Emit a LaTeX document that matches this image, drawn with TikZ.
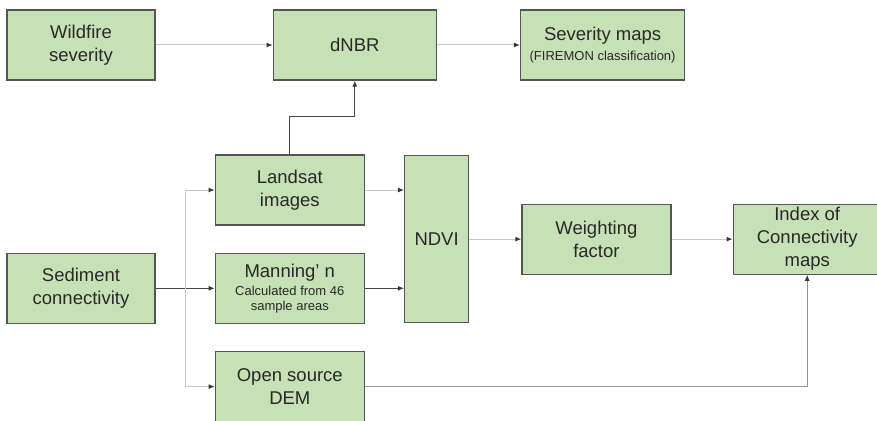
\documentclass[tikz,border=0pt]{standalone}
\usepackage{fontspec}
\setmainfont{Liberation Sans}
\usepackage{tikz}
\usetikzlibrary{arrows.meta,positioning,calc}

\definecolor{boxgreen}{RGB}{199,225,182}
\definecolor{boxedge}{RGB}{85,85,85}
\definecolor{inktxt}{RGB}{40,40,40}
\newcommand{\smalltxt}{\fontsize{13}{15}\selectfont}

\begin{document}
\begin{tikzpicture}[
  x=1pt, y=-1pt,
  blk/.style={draw=boxedge, line width=1.3pt, fill=boxgreen, text=inktxt, align=center, inner sep=0pt, minimum width=149pt, minimum height=70pt, font=\fontsize{18.5}{23}\selectfont},
  arr/.style={-{Latex[length=6pt,width=5pt,color=black!78]}, line width=1pt},
  dark/.style={arr, draw=black!72},
  lite/.style={arr, draw=black!22},
  mid/.style={arr, draw=black!42}
]
\useasboundingbox (0,0) rectangle (877,420);

% burn severity chain
\node[blk, minimum width=148pt] (wild) at (81,45) {Wildfire\\severity};
\node[blk, minimum width=163pt, right=117pt of wild] (dnbr) {dNBR};
\node[blk, minimum width=164pt, right=83pt of dnbr] (sevmap) {Severity maps\\[-3pt]{\smalltxt (FIREMON classification)}};

% connectivity inputs
\node[blk, minimum width=148pt, below=172pt of wild] (sed) {Sediment\\connectivity};
\node[blk, right=59pt of sed] (manning) {Manning' n\\[-5pt]{\smalltxt Calculated from 46}\\[-8pt]{\smalltxt sample areas}};
\node[blk, above=27pt of manning] (landsat) {Landsat\\images};
\node[blk, below=27pt of manning] (dem) {Open source\\DEM};
\node[blk, minimum width=64pt, minimum height=167pt, right=39pt of $(landsat.east)!0.5!(manning.east)$] (ndvi) {NDVI};
\node[blk, right=52pt of ndvi] (weight) {Weighting\\factor};
\node[blk, minimum width=148pt, right=61pt of weight] (ioc) {Index of\\Connectivity\\maps};

\draw[lite] (wild) -- (dnbr);
\draw[lite] (dnbr) -- (sevmap);
\draw[dark] (landsat.north) -- ++(0,-38) -| (dnbr.south);

\draw[dark] (sed) -- (manning);
\coordinate (split) at ($(sed.east)+(30,0)$);
\draw[lite] (split) |- (landsat);
\draw[lite] (split) |- (dem);

\draw[lite] (landsat.east) -- (landsat.east -| ndvi.west);
\draw[dark] (manning.east) -- (manning.east -| ndvi.west);
\draw[lite] (ndvi) -- (weight);
\draw[lite] (weight) -- (ioc);
\draw[mid] (dem) -| (ioc);

\end{tikzpicture}
\end{document}
